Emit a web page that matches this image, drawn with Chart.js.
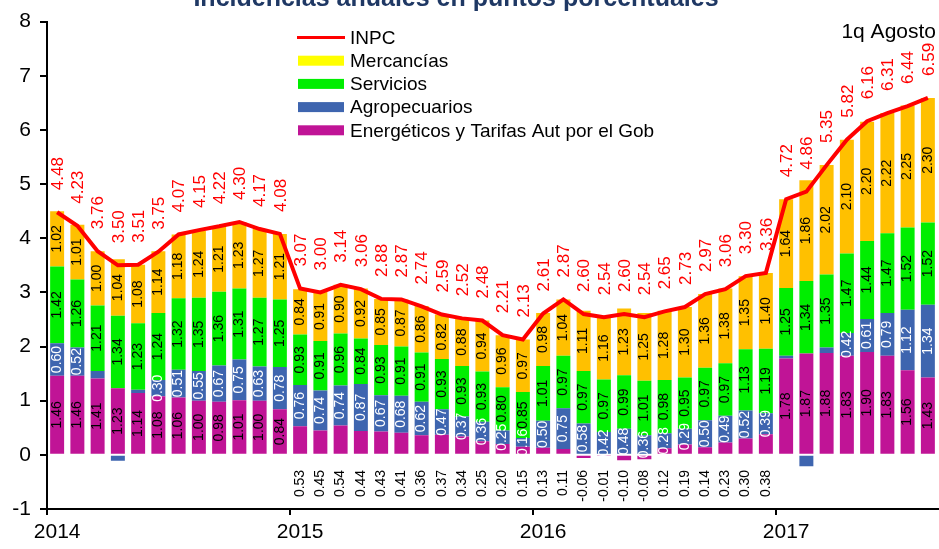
<!DOCTYPE html>
<html>
<head>
<meta charset="utf-8">
<script src="https://cdn.jsdelivr.net/npm/chart.js@4.4.0/dist/chart.umd.min.js"></script>
<style>
	html, body { margin: 0; padding: 0; background: #fff; }
	#wrap { width: 939px; height: 549px; position: relative; }
</style>
</head>
<body>
<div id="wrap"><canvas id="myChart"></canvas></div>
<script>
const periodos = [
	"Ene 14", "Feb 14", "Mar 14", "Abr 14", "May 14", "Jun 14", "Jul 14", "Ago 14", "Sep 14", "Oct 14", "Nov 14", "Dic 14",
	"Ene 15", "Feb 15", "Mar 15", "Abr 15", "May 15", "Jun 15", "Jul 15", "Ago 15", "Sep 15", "Oct 15", "Nov 15", "Dic 15",
	"Ene 16", "Feb 16", "Mar 16", "Abr 16", "May 16", "Jun 16", "Jul 16", "Ago 16", "Sep 16", "Oct 16", "Nov 16", "Dic 16",
	"Ene 17", "Feb 17", "Mar 17", "Abr 17", "May 17", "Jun 17", "Jul 17", "1q Ago 17"
];

const inpc = [
	4.48, 4.23, 3.76, 3.50, 3.51, 3.75, 4.07, 4.15, 4.22, 4.30, 4.17, 4.08,
	3.07, 3.00, 3.14, 3.06, 2.88, 2.87, 2.74, 2.59, 2.52, 2.48, 2.21, 2.13,
	2.61, 2.87, 2.60, 2.54, 2.60, 2.54, 2.65, 2.73, 2.97, 3.06, 3.30, 3.36,
	4.72, 4.86, 5.35, 5.82, 6.16, 6.31, 6.44, 6.59
];

const energeticos = [
	1.46, 1.46, 1.41, 1.23, 1.14, 1.08, 1.06, 1.00, 0.98, 1.01, 1.00, 0.84,
	0.53, 0.45, 0.54, 0.44, 0.43, 0.41, 0.36, 0.37, 0.34, 0.25, 0.20, 0.15,
	0.13, 0.11, -0.06, -0.01, -0.10, -0.08, 0.12, 0.19, 0.14, 0.23, 0.30, 0.38,
	1.78, 1.87, 1.88, 1.83, 1.90, 1.83, 1.56, 1.43
];

const agropecuarios = [
	0.60, 0.52, 0.14, -0.11, 0.06, 0.30, 0.51, 0.55, 0.67, 0.75, 0.63, 0.78,
	0.76, 0.74, 0.74, 0.87, 0.67, 0.68, 0.62, 0.47, 0.37, 0.36, 0.25, 0.16,
	0.50, 0.75, 0.58, 0.42, 0.48, 0.36, 0.28, 0.29, 0.50, 0.49, 0.52, 0.39,
	0.05, -0.21, 0.10, 0.42, 0.61, 0.79, 1.12, 1.34
];

const servicios = [
	1.42, 1.26, 1.21, 1.34, 1.23, 1.24, 1.32, 1.35, 1.36, 1.31, 1.27, 1.25,
	0.93, 0.91, 0.96, 0.84, 0.93, 0.91, 0.91, 0.93, 0.93, 0.93, 0.80, 0.85,
	1.01, 0.97, 0.97, 0.97, 0.99, 1.01, 0.98, 0.95, 0.97, 0.97, 1.13, 1.19,
	1.25, 1.34, 1.35, 1.47, 1.44, 1.47, 1.52, 1.52
];

const mercancias = [
	1.02, 1.01, 1.00, 1.04, 1.08, 1.14, 1.18, 1.24, 1.21, 1.23, 1.27, 1.21,
	0.84, 0.91, 0.90, 0.92, 0.85, 0.87, 0.86, 0.82, 0.88, 0.94, 0.96, 0.97,
	0.98, 1.04, 1.11, 1.16, 1.23, 1.25, 1.28, 1.30, 1.36, 1.38, 1.35, 1.40,
	1.64, 1.86, 2.02, 2.10, 2.20, 2.22, 2.25, 2.30
];

const titulo = "Incidencias anuales en puntos porcentuales";
const nota = "1q Agosto";

Chart.defaults.font.family = '"Liberation Sans", Arial, sans-serif';

// rotated value labels
const etiquetas = {
	id: "etiquetas",
	afterDatasetsDraw(chart) {
		const ctx = chart.ctx;
		const y0 = chart.scales.y.getPixelForValue(0);
		ctx.save();
		ctx.textBaseline = "middle";
		chart.data.datasets.forEach((ds, di) => {
			const meta = chart.getDatasetMeta(di);
			meta.data.forEach((el, i) => {
				const v = ds.data[i];
				const txt = v.toFixed(2);
				ctx.save();
				if (ds.type === "line") {
					ctx.font = '17px "Liberation Sans", Arial';
					ctx.fillStyle = "#FF0000";
					ctx.textAlign = "left";
					ctx.translate(el.x + 1, el.y - 22);
				} else {
					ctx.font = '14px "Liberation Sans", Arial';
					ctx.fillStyle = ds.labelColor;
					if (ds.key === "energ" && v < 0.6) {
						ctx.textAlign = "right";
						ctx.translate(el.x, y0 + 15);
					} else if (v < 0.15) {
						ctx.restore();
						return;
					} else {
						ctx.textAlign = "center";
						ctx.translate(el.x, (el.y + el.base) / 2);
					}
				}
				ctx.rotate(-Math.PI / 2);
				ctx.fillText(txt, 0, 0);
				ctx.restore();
			});
		});
		ctx.restore();
	},
};

// legend, title and note
const leyenda = {
	id: "leyenda",
	afterDraw(chart) {
		const ctx = chart.ctx;
		ctx.save();
		ctx.font = 'bold 25px "Liberation Sans", Arial';
		ctx.fillStyle = "#1F3864";
		ctx.textAlign = "center";
		ctx.textBaseline = "alphabetic";
		ctx.fillText(titulo, 456, 6);

		ctx.font = '21px "Liberation Sans", Arial';
		ctx.fillStyle = "#000";
		ctx.textAlign = "right";
		ctx.fillText(nota, 936, 38);

		ctx.font = '19px "Liberation Sans", Arial';
		ctx.textAlign = "left";
		ctx.textBaseline = "middle";
		const orden = [4, 3, 2, 1, 0];
		orden.forEach((di, k) => {
			const ds = chart.data.datasets[di];
			const y = 37.5 + k * 23.2;
			if (ds.type === "line") {
				ctx.strokeStyle = ds.borderColor;
				ctx.lineWidth = 3;
				ctx.beginPath();
				ctx.moveTo(297, y);
				ctx.lineTo(345, y);
				ctx.stroke();
			} else {
				ctx.fillStyle = ds.legendColor;
				ctx.fillRect(298, y - 5, 46, 10);
			}
			ctx.fillStyle = "#000";
			ctx.fillText(ds.label, 350, y + 1);
		});
		ctx.restore();
	},
};

const data = {
	labels: periodos,
	datasets: [
		{
			key: "energ",
			label: "Energéticos y Tarifas Aut por el Gob",
			data: energeticos,
			backgroundColor: "#C01496",
			legendColor: "#C01496",
			labelColor: "#000",
			stack: "comp",
			order: 1,
		},
		{
			key: "agro",
			label: "Agropecuarios",
			data: agropecuarios,
			backgroundColor: "#3E65AF",
			legendColor: "#3E65AF",
			labelColor: "#fff",
			stack: "comp",
			order: 1,
		},
		{
			key: "serv",
			label: "Servicios",
			data: servicios,
			backgroundColor: "#00EE00",
			legendColor: "#00EE00",
			labelColor: "#000",
			stack: "comp",
			order: 1,
		},
		{
			key: "merc",
			label: "Mercancías",
			data: mercancias,
			backgroundColor: "#FFC000",
			legendColor: "#FFFF00",
			labelColor: "#000",
			stack: "comp",
			order: 1,
		},
		{
			type: "line",
			key: "inpc",
			label: "INPC",
			data: inpc,
			borderColor: "#FF0000",
			backgroundColor: "#FF0000",
			borderWidth: 4,
			pointRadius: 0,
			tension: 0,
			stack: "inpc",
			order: 0,
		},
	],
};

const config = {
	type: "bar",
	data: data,
	options: {
		responsive: true,
		maintainAspectRatio: false,
		animation: false,
		barPercentage: 0.69,
		categoryPercentage: 1.0,
		layout: { padding: { top: 19, right: 1, left: 0, bottom: 0 } },
		plugins: {
			legend: { display: false },
			tooltip: { enabled: false },
		},
		scales: {
			x: {
				stacked: true,
				offset: true,
				grid: {
					offset: true,
					drawOnChartArea: false,
					tickLength: 6,
					lineWidth: 2,
					color: (c) => (c.tick && periodos[c.index].startsWith("Ene") ? "#000" : "rgba(0,0,0,0)"),
				},
				border: { color: "#000", width: 2 },
				ticks: {
					autoSkip: false,
					maxRotation: 0,
					color: "#000",
					font: { size: 21 },
					padding: 5,
					callback: (v, i) => (periodos[i].startsWith("Ene") ? "20" + periodos[i].slice(-2) : ""),
				},
				afterFit: (s) => {
					s.height = 40;
				},
			},
			y: {
				stacked: true,
				min: -1,
				max: 8,
				ticks: { stepSize: 1, color: "#000", font: { size: 21 }, padding: 9 },
				grid: { drawOnChartArea: false, tickLength: 7, color: "#000", lineWidth: 2 },
				border: { color: "#000", width: 2 },
				afterFit: (s) => {
					s.width = 47;
				},
			},
		},
	},
	plugins: [etiquetas, leyenda],
};

const myChart = new Chart(document.getElementById("myChart"), config);
</script>
</body>
</html>
